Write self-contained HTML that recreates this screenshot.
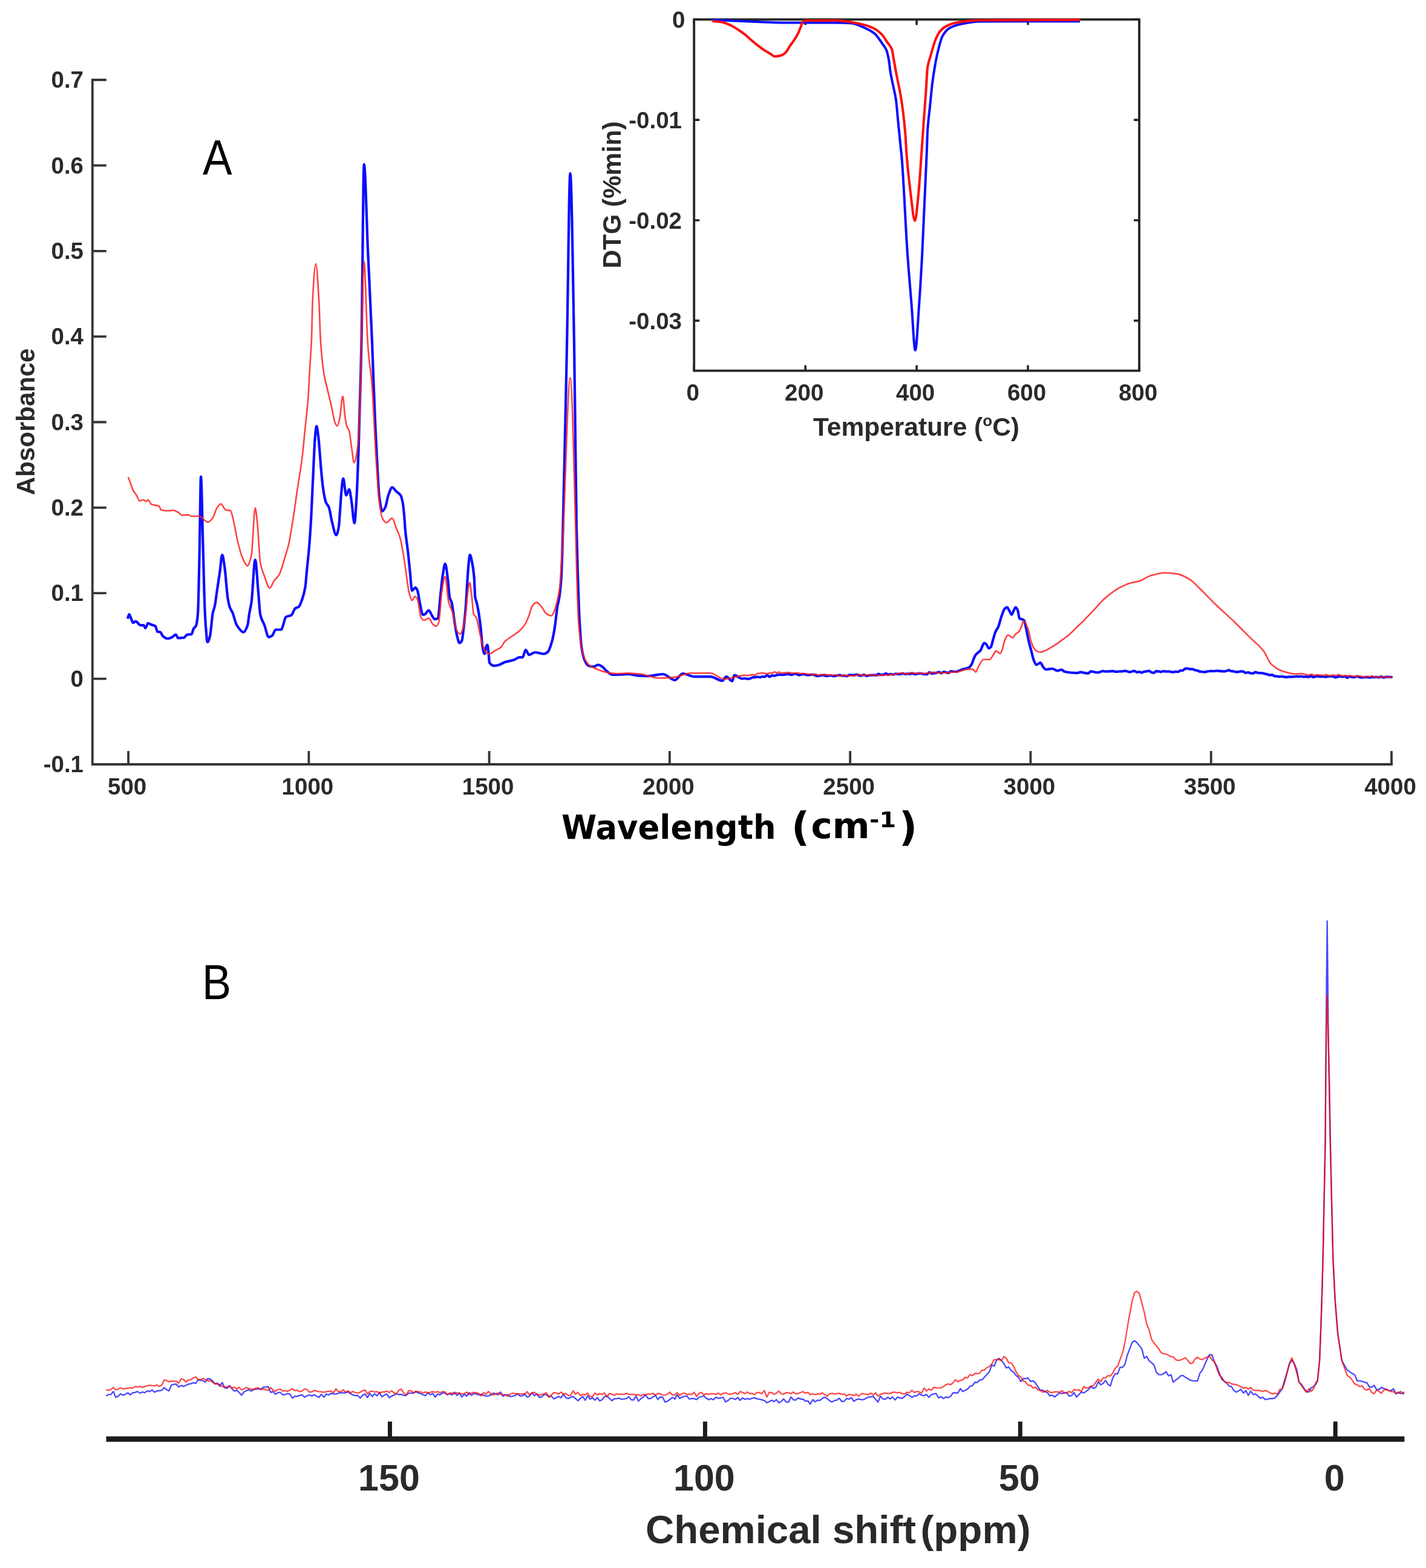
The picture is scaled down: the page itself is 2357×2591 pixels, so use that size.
<!DOCTYPE html>
<html><head><meta charset="utf-8"><title>Figure</title>
<style>html,body{margin:0;padding:0;background:#fff;} svg{display:block;}</style>
</head><body>
<svg width="2357" height="2591" viewBox="0 0 2357 2591">
<rect width="2357" height="2591" fill="#ffffff"/>
<defs><filter id="soft" x="0" y="0" width="100%" height="100%" filterUnits="userSpaceOnUse"><feGaussianBlur stdDeviation="0.6"/></filter></defs>
<g filter="url(#soft)">
<path d="M152.8,132.0 L152.8,1263.0 L2300.1,1263.0" fill="none" stroke="#353535" stroke-width="3.8" stroke-linejoin="miter" stroke-linecap="square"/>
<path d="M152.8,132.0 L175.8,132.0 M152.8,273.4 L175.8,273.4 M152.8,414.8 L175.8,414.8 M152.8,556.1 L175.8,556.1 M152.8,697.5 L175.8,697.5 M152.8,838.9 L175.8,838.9 M152.8,980.2 L175.8,980.2 M152.8,1121.6 L175.8,1121.6" stroke="#353535" stroke-width="3.8" fill="none"/>
<g font-family="Liberation Sans, Arial, sans-serif" font-weight="bold" font-size="38.5" fill="#2b2b2b" text-anchor="end">
<text x="138" y="145.1">0.7</text>
<text x="138" y="286.5">0.6</text>
<text x="138" y="427.9">0.5</text>
<text x="138" y="569.2">0.4</text>
<text x="138" y="710.6">0.3</text>
<text x="138" y="852.0">0.2</text>
<text x="138" y="993.4">0.1</text>
<text x="138" y="1134.7">0</text>
<text x="138" y="1276.1">-0.1</text>
</g>
<path d="M212.1,1263.0 L212.1,1241.0 M510.4,1263.0 L510.4,1241.0 M808.6,1263.0 L808.6,1241.0 M1106.9,1263.0 L1106.9,1241.0 M1405.2,1263.0 L1405.2,1241.0 M1703.4,1263.0 L1703.4,1241.0 M2001.7,1263.0 L2001.7,1241.0 M2300.0,1263.0 L2300.0,1241.0" stroke="#353535" stroke-width="3.8" fill="none"/>
<g font-family="Liberation Sans, Arial, sans-serif" font-weight="bold" font-size="38.5" fill="#2b2b2b" text-anchor="middle">
<text x="210.1" y="1312.5">500</text>
<text x="508.4" y="1312.5">1000</text>
<text x="806.6" y="1312.5">1500</text>
<text x="1104.9" y="1312.5">2000</text>
<text x="1403.2" y="1312.5">2500</text>
<text x="1701.4" y="1312.5">3000</text>
<text x="1999.7" y="1312.5">3500</text>
<text x="2298.0" y="1312.5">4000</text>
</g>
<text transform="translate(57,697) rotate(-90)" font-family="Liberation Sans, Arial, sans-serif" font-weight="bold" font-size="42" fill="#2b2b2b" text-anchor="middle">Absorbance</text>
<g font-family="DejaVu Sans, Verdana, sans-serif" font-weight="bold" font-size="55" fill="#000"><text x="928" y="1385.5" textLength="354.5" lengthAdjust="spacingAndGlyphs">Wavelength</text><text x="1308" y="1388.5" font-size="66">(</text><text x="1340.5" y="1384.8" font-size="58" textLength="97" lengthAdjust="spacingAndGlyphs">cm</text><text x="1437" y="1366.5" font-size="36" textLength="44" lengthAdjust="spacingAndGlyphs">-1</text><text x="1486" y="1388.5" font-size="66">)</text></g>
<text transform="translate(335,287.7) scale(0.89,1)" font-family="Liberation Sans, Arial, sans-serif" font-size="82" fill="#000">A</text>
<path d="M211.1,1022.5C211.9,1018.3 212.7,1015.2 213.5,1015.2C214.6,1015.2 215.7,1020.2 216.8,1022.5C217.9,1024.8 219.0,1029.1 220.1,1029.1C221.5,1029.1 222.8,1026.6 224.2,1026.6C226.9,1026.6 229.6,1033.2 232.3,1033.2C234.0,1033.2 235.6,1033.2 237.3,1033.2C238.4,1033.2 239.4,1038.0 240.5,1038.0C241.9,1038.0 243.2,1029.9 244.6,1029.9C246.5,1029.9 248.4,1031.5 250.3,1032.3C252.5,1033.2 254.7,1033.2 256.9,1034.8C258.0,1035.6 259.1,1043.4 260.2,1043.8C261.8,1044.3 263.5,1044.1 265.1,1044.6C266.5,1045.0 267.8,1050.0 269.2,1051.2C271.6,1053.3 274.1,1055.2 276.5,1055.2C279.2,1055.2 282.0,1054.0 284.7,1052.8C286.6,1052.0 288.5,1048.7 290.4,1048.7C291.8,1048.7 293.1,1054.4 294.5,1054.4C297.8,1054.4 301.0,1054.1 304.3,1053.6C305.9,1053.3 307.6,1049.0 309.2,1048.7C311.7,1048.2 314.1,1048.5 316.6,1047.9C317.7,1047.6 318.8,1040.8 319.9,1038.9C321.3,1036.6 322.6,1036.8 324.0,1034.0C324.8,1032.3 325.6,1027.2 326.4,1020.9C326.7,1018.8 326.9,1016.0 327.2,1011.7C328.0,998.1 328.9,951.1 329.7,913.6C330.5,877.6 331.3,787.6 332.1,787.6C333.2,787.6 334.3,859.9 335.4,897.2C336.5,934.5 337.6,988.7 338.7,1011.7C339.3,1024.2 339.9,1033.0 340.5,1040.0C341.3,1049.0 342.0,1061.0 342.8,1061.0C344.2,1061.0 345.5,1056.6 346.9,1052.0C348.5,1046.5 350.2,1020.5 351.8,1012.7C352.9,1007.6 353.9,1006.3 355.0,1001.3C356.1,996.2 357.2,986.4 358.3,979.0C359.9,968.0 361.6,957.6 363.2,946.3C364.6,936.8 365.9,916.9 367.3,916.9C368.7,916.9 370.0,928.9 371.4,938.1C373.0,949.1 374.7,976.9 376.3,987.2C377.4,994.1 378.5,999.7 379.6,1002.9C381.2,1007.6 382.9,1008.8 384.5,1012.7C386.7,1017.9 388.8,1028.7 391.0,1032.3C394.8,1038.6 398.7,1044.6 402.5,1044.6C404.7,1044.6 406.8,1040.0 409.0,1034.0C410.1,1030.9 411.2,1019.1 412.3,1012.7C413.4,1006.3 414.5,1003.0 415.6,995.4C417.7,981.1 419.7,925.0 421.8,925.0C423.5,925.0 425.3,960.3 427.0,979.0C428.1,990.9 429.2,1011.2 430.3,1016.0C432.5,1025.5 434.6,1026.6 436.8,1032.3C439.3,1038.8 441.7,1052.8 444.2,1052.8C446.1,1052.8 448.0,1051.6 449.9,1050.3C451.8,1049.0 453.7,1040.5 455.6,1040.5C458.6,1040.5 461.6,1040.5 464.6,1040.5C467.3,1040.5 470.1,1020.8 472.8,1019.3C475.7,1017.7 478.6,1018.2 481.5,1016.7C483.7,1015.6 485.8,1006.7 488.0,1005.2C489.9,1003.9 491.8,1004.1 493.7,1002.8C495.6,1001.5 497.5,995.8 499.4,990.5C501.1,985.8 502.7,980.7 504.4,970.9C505.5,964.7 506.5,948.9 507.6,938.2C508.7,927.1 509.8,918.5 510.9,905.4C512.0,892.3 513.1,875.6 514.2,856.4C515.3,837.8 516.3,810.8 517.4,789.0C518.5,766.5 519.6,735.7 520.7,723.6C521.5,714.4 522.4,704.0 523.2,704.0C524.3,704.0 525.3,715.1 526.4,723.6C527.8,734.5 529.1,757.9 530.5,772.7C531.6,784.6 532.7,797.9 533.8,805.4C535.4,816.5 537.1,825.8 538.7,829.9C540.3,834.0 542.0,834.1 543.6,838.1C545.2,842.1 546.9,855.1 548.5,861.3C551.0,870.7 553.4,884.2 555.9,884.2C557.3,884.2 558.6,877.9 560.0,870.0C560.7,866.1 561.3,853.9 562.0,845.0C562.7,835.7 563.4,822.1 564.1,815.0C565.2,804.2 566.2,790.7 567.3,790.7C568.9,790.7 570.6,818.5 572.2,818.5C573.8,818.5 575.5,808.6 577.1,808.6C578.5,808.6 579.8,821.5 581.2,829.9C582.7,839.3 584.3,864.5 585.8,864.5C587.0,864.5 588.2,841.1 589.4,821.7C590.5,803.9 591.6,771.7 592.7,739.9C593.8,708.1 594.9,667.1 596.0,625.4C596.5,605.2 597.1,586.5 597.6,560.0C599.0,492.0 600.3,271.6 601.7,271.6C603.9,271.6 606.0,369.2 608.2,417.0C610.5,467.0 612.7,508.9 615.0,565.0C615.7,583.2 616.5,606.2 617.2,625.4C618.3,654.2 619.4,683.0 620.5,707.2C621.6,731.4 622.7,753.7 623.8,772.7C624.9,791.1 625.9,813.9 627.0,821.7C628.7,833.9 630.3,844.6 632.0,844.6C633.6,844.6 635.3,841.4 636.9,838.1C638.5,834.8 640.2,822.9 641.8,818.5C644.0,812.6 646.1,805.4 648.3,805.4C650.5,805.4 652.7,809.8 654.9,811.9C657.3,814.2 659.8,814.7 662.2,818.5C663.3,820.2 664.4,824.4 665.5,829.9C666.6,835.4 667.7,846.5 668.8,860.0C669.1,863.3 669.3,869.5 669.6,872.7C671.2,892.0 672.9,898.7 674.5,913.6C675.6,923.6 676.7,935.8 677.8,946.3C678.9,956.5 679.9,975.8 681.0,975.8C682.9,975.8 684.8,970.9 686.7,970.9C687.8,970.9 688.9,973.3 690.0,975.8C691.4,978.9 692.7,990.9 694.1,997.0C695.7,1004.2 697.4,1015.9 699.0,1015.9C700.1,1015.9 701.2,1015.4 702.3,1015.0C704.5,1014.1 706.6,1008.5 708.8,1008.5C710.4,1008.5 712.1,1014.3 713.7,1016.7C715.4,1019.1 717.0,1023.2 718.7,1023.2C720.3,1023.2 722.0,1022.6 723.6,1021.6C725.2,1020.6 726.9,993.2 728.5,979.0C729.6,969.7 730.6,957.9 731.7,951.2C733.1,942.7 734.4,931.6 735.8,931.6C737.2,931.6 738.5,944.6 739.9,954.5C741.0,962.4 742.1,982.8 743.2,987.2C744.3,991.6 745.4,991.5 746.5,995.4C748.1,1001.1 749.8,1018.2 751.4,1028.1C752.8,1036.4 754.1,1045.8 755.5,1051.0C756.8,1056.1 758.2,1062.5 759.5,1062.5C760.8,1062.5 762.0,1061.2 763.3,1059.2C764.4,1057.5 765.4,1045.2 766.5,1036.3C767.6,1027.2 768.7,1017.3 769.8,1003.6C770.6,993.2 771.5,975.1 772.3,962.7C773.1,950.8 773.9,936.8 774.7,930.0C775.4,924.1 776.1,916.9 776.8,916.9C778.0,916.9 779.2,924.1 780.4,930.0C781.5,935.4 782.6,942.1 783.7,954.5C784.3,960.9 784.8,983.8 785.4,987.2C786.2,992.0 787.0,992.2 787.8,995.4C788.9,999.8 790.0,1005.3 791.1,1011.8C792.2,1018.3 793.3,1026.8 794.4,1036.3C795.5,1045.5 796.5,1063.4 797.6,1069.0C798.7,1074.7 799.8,1080.5 800.9,1080.5C801.7,1080.5 802.6,1070.9 803.4,1069.0C804.1,1067.4 804.8,1065.7 805.5,1065.7C806.1,1065.7 806.8,1072.3 807.4,1077.2C808.0,1081.6 808.5,1094.4 809.1,1095.2C811.8,1099.0 814.6,1100.1 817.3,1100.1C820.0,1100.1 822.7,1099.3 825.4,1098.5C828.1,1097.7 830.9,1095.3 833.6,1094.4C839.1,1092.5 844.5,1092.2 850.0,1090.3C852.7,1089.4 855.5,1086.2 858.2,1086.2C860.1,1086.2 862.0,1086.2 863.9,1086.2C865.5,1086.2 867.2,1073.9 868.8,1073.9C870.7,1073.9 872.6,1082.1 874.5,1082.1C877.8,1082.1 881.0,1078.0 884.3,1078.0C889.2,1078.0 894.1,1080.5 899.0,1080.5C901.2,1080.5 903.4,1079.0 905.6,1077.2C907.8,1075.4 909.9,1068.2 912.1,1060.8C913.7,1055.2 915.4,1046.4 917.0,1036.3C918.4,1027.8 919.7,1011.9 921.1,1003.6C922.2,996.9 923.3,994.5 924.4,987.2C925.5,979.9 926.6,971.0 927.7,954.5C928.6,941.5 929.4,909.6 930.3,880.0C932.6,802.7 934.8,678.5 937.1,567.6C938.9,479.5 940.7,286.4 942.5,286.4C944.7,286.4 946.8,444.4 949.0,567.6C950.3,641.5 951.6,806.5 952.9,870.0C953.5,899.3 954.1,918.9 954.7,938.2C955.8,973.6 956.9,1009.0 958.0,1028.1C959.1,1046.6 960.1,1061.8 961.2,1069.0C962.8,1080.0 964.5,1086.6 966.1,1090.3C968.3,1095.3 970.5,1099.3 972.7,1100.1C975.4,1101.1 978.1,1101.7 980.8,1101.7C983.5,1101.7 986.3,1098.5 989.0,1098.5C991.2,1098.5 993.4,1100.3 995.6,1101.7C997.8,1103.1 999.9,1106.5 1002.1,1108.3C1005.4,1111.0 1008.6,1114.8 1011.9,1114.8C1015.2,1114.8 1018.4,1114.8 1021.7,1114.8C1027.2,1114.8 1032.6,1114.0 1038.1,1114.0C1043.5,1114.0 1049.0,1116.1 1054.4,1116.5C1059.5,1116.9 1064.5,1117.2 1069.6,1117.2C1078.3,1117.2 1087.1,1114.0 1095.8,1114.0C1102.3,1114.0 1108.9,1123.8 1115.4,1123.8C1119.8,1123.8 1124.1,1113.0 1128.5,1113.0C1135.0,1113.0 1141.6,1118.2 1148.1,1118.2C1156.8,1118.2 1165.6,1118.2 1174.3,1118.2C1180.8,1118.2 1187.4,1124.8 1193.9,1124.8C1196.1,1124.8 1198.3,1118.2 1200.5,1118.2C1203.8,1118.2 1207.0,1125.4 1210.3,1125.4C1211.4,1125.4 1212.5,1115.6 1213.6,1115.6C1217.9,1115.6 1222.3,1121.5 1226.6,1121.5C1228.4,1121.5 1230.2,1121.0 1232.0,1121.0C1233.3,1121.0 1234.7,1121.8 1236.0,1121.8C1237.3,1121.8 1238.7,1121.5 1240.0,1121.3C1241.3,1121.0 1242.7,1119.4 1244.0,1119.3C1245.3,1119.2 1246.7,1119.2 1248.0,1119.1C1249.3,1119.0 1250.7,1118.5 1252.0,1118.5C1253.3,1118.5 1254.7,1119.1 1256.0,1119.1C1257.3,1119.1 1258.7,1118.1 1260.0,1118.1C1261.3,1118.1 1262.7,1118.4 1264.0,1118.4C1265.3,1118.4 1266.7,1115.6 1268.0,1115.6C1269.3,1115.6 1270.7,1118.3 1272.0,1118.3C1273.3,1118.3 1274.7,1116.3 1276.0,1116.3C1277.3,1116.3 1278.7,1116.6 1280.0,1116.6C1281.3,1116.6 1282.7,1115.7 1284.0,1115.4C1285.3,1115.2 1286.7,1114.8 1288.0,1114.8C1289.3,1114.8 1290.7,1115.1 1292.0,1115.1C1293.3,1115.1 1294.7,1115.1 1296.0,1115.0C1297.3,1115.0 1298.7,1113.9 1300.0,1113.9C1301.3,1113.9 1302.7,1114.0 1304.0,1114.1C1305.3,1114.3 1306.7,1115.1 1308.0,1115.1C1309.3,1115.1 1310.7,1114.1 1312.0,1113.9C1313.3,1113.7 1314.7,1113.5 1316.0,1113.5C1317.3,1113.5 1318.7,1115.4 1320.0,1115.4C1321.3,1115.4 1322.7,1115.0 1324.0,1114.7C1325.3,1114.4 1326.7,1113.8 1328.0,1113.8C1329.3,1113.8 1330.7,1114.7 1332.0,1115.0C1333.3,1115.2 1334.7,1115.5 1336.0,1115.5C1337.3,1115.5 1338.7,1115.0 1340.0,1115.0C1341.3,1115.0 1342.7,1114.9 1344.0,1114.9C1345.3,1114.9 1346.7,1116.0 1348.0,1116.3C1349.3,1116.7 1350.7,1117.1 1352.0,1117.1C1353.3,1117.1 1354.7,1116.3 1356.0,1116.1C1357.3,1115.9 1358.7,1115.6 1360.0,1115.6C1361.3,1115.6 1362.7,1116.5 1364.0,1116.6C1365.3,1116.8 1366.7,1116.9 1368.0,1116.9C1369.3,1116.9 1370.7,1116.0 1372.0,1116.0C1373.3,1116.0 1374.7,1116.6 1376.0,1116.8C1377.3,1117.0 1378.7,1117.2 1380.0,1117.2C1381.3,1117.2 1382.7,1116.4 1384.0,1116.1C1385.3,1115.9 1386.7,1115.6 1388.0,1115.6C1389.3,1115.6 1390.7,1116.6 1392.0,1116.6C1393.3,1116.6 1394.7,1116.5 1396.0,1116.5C1397.3,1116.5 1398.7,1117.3 1400.0,1117.3C1401.3,1117.3 1402.7,1115.1 1404.0,1115.1C1405.3,1115.1 1406.7,1115.7 1408.0,1115.7C1409.3,1115.7 1410.7,1115.6 1412.0,1115.5C1413.3,1115.3 1414.7,1114.5 1416.0,1114.5C1417.3,1114.5 1418.7,1115.9 1420.0,1116.1C1421.3,1116.2 1422.7,1116.3 1424.0,1116.3C1425.3,1116.3 1426.7,1115.0 1428.0,1115.0C1429.3,1115.0 1430.7,1116.8 1432.0,1116.8C1433.3,1116.8 1434.7,1116.3 1436.0,1116.1C1437.3,1116.0 1438.7,1115.9 1440.0,1115.8C1441.3,1115.7 1442.7,1115.5 1444.0,1115.5C1445.3,1115.5 1446.7,1115.8 1448.0,1115.8C1449.3,1115.8 1450.7,1113.6 1452.0,1113.6C1453.3,1113.6 1454.7,1115.2 1456.0,1115.2C1457.3,1115.2 1458.7,1115.2 1460.0,1115.1C1461.3,1115.0 1462.7,1112.8 1464.0,1112.8C1465.3,1112.8 1466.7,1114.6 1468.0,1114.6C1469.3,1114.6 1470.7,1113.9 1472.0,1113.9C1473.3,1113.9 1474.7,1114.7 1476.0,1114.7C1477.3,1114.7 1478.7,1113.5 1480.0,1113.5C1481.3,1113.5 1482.7,1113.7 1484.0,1113.8C1485.3,1113.8 1486.7,1114.0 1488.0,1114.0C1489.3,1114.0 1490.7,1112.8 1492.0,1112.8C1493.3,1112.8 1494.7,1114.0 1496.0,1114.0C1497.3,1114.0 1498.7,1113.3 1500.0,1113.3C1501.3,1113.3 1502.7,1113.7 1504.0,1113.7C1505.3,1113.7 1506.7,1112.7 1508.0,1112.7C1509.3,1112.7 1510.7,1114.0 1512.0,1114.0C1513.3,1114.0 1514.7,1113.7 1516.0,1113.5C1517.3,1113.3 1518.7,1112.7 1520.0,1112.7C1521.3,1112.7 1522.7,1113.1 1524.0,1113.3C1525.3,1113.5 1526.7,1113.6 1528.0,1113.8C1529.3,1113.9 1530.7,1114.1 1532.0,1114.1C1533.3,1114.1 1534.7,1111.0 1536.0,1111.0C1537.3,1111.0 1538.7,1113.1 1540.0,1113.1C1541.3,1113.1 1542.7,1112.7 1544.0,1112.5C1545.3,1112.3 1546.7,1112.1 1548.0,1111.8C1549.3,1111.5 1550.7,1110.7 1552.0,1110.7C1553.3,1110.7 1554.7,1112.5 1556.0,1112.5C1557.3,1112.5 1558.7,1110.0 1560.0,1110.0C1561.3,1110.0 1562.7,1111.2 1564.0,1111.4C1565.3,1111.7 1566.7,1111.9 1568.0,1111.9C1569.3,1111.9 1570.7,1109.0 1572.0,1109.0C1573.3,1109.0 1574.7,1109.9 1576.0,1110.0C1577.3,1110.0 1578.7,1110.0 1580.0,1110.0C1583.6,1110.0 1587.3,1107.3 1590.9,1106.1C1594.5,1104.9 1598.2,1104.8 1601.8,1102.9C1603.3,1102.1 1604.7,1100.0 1606.2,1097.4C1607.3,1095.5 1608.3,1091.2 1609.4,1088.7C1610.5,1086.2 1611.6,1083.6 1612.7,1082.1C1614.2,1080.1 1615.6,1079.1 1617.1,1077.8C1618.4,1076.6 1619.6,1076.2 1620.9,1074.5C1621.8,1073.3 1622.7,1069.8 1623.6,1068.0C1624.7,1065.8 1625.8,1062.5 1626.9,1062.5C1628.0,1062.5 1629.1,1063.7 1630.2,1064.7C1631.6,1066.0 1633.1,1071.2 1634.5,1071.2C1635.6,1071.2 1636.7,1070.3 1637.8,1069.1C1638.9,1067.9 1640.0,1061.7 1641.1,1058.1C1642.5,1053.4 1644.0,1047.3 1645.4,1044.0C1646.9,1040.6 1648.3,1039.6 1649.8,1036.3C1651.6,1032.3 1653.4,1023.8 1655.2,1018.9C1657.0,1013.9 1658.9,1007.4 1660.7,1005.8C1662.0,1004.7 1663.2,1003.6 1664.5,1003.6C1665.8,1003.6 1667.0,1007.1 1668.3,1009.1C1669.6,1011.1 1670.8,1015.6 1672.1,1015.6C1673.2,1015.6 1674.3,1011.1 1675.4,1009.1C1676.5,1007.1 1677.6,1003.6 1678.7,1003.6C1679.8,1003.6 1680.9,1005.7 1682.0,1008.0C1683.1,1010.2 1684.1,1021.7 1685.2,1022.2C1686.5,1022.8 1687.8,1022.7 1689.1,1023.2C1690.4,1023.7 1691.6,1024.1 1692.9,1025.4C1693.8,1026.4 1694.7,1032.3 1695.6,1036.3C1697.1,1042.8 1698.5,1051.8 1700.0,1058.1C1701.4,1064.3 1702.9,1069.1 1704.3,1074.5C1705.8,1080.0 1707.2,1087.4 1708.7,1090.9C1710.1,1094.3 1711.6,1098.5 1713.0,1098.5C1715.2,1098.5 1717.4,1095.2 1719.6,1095.2C1721.1,1095.2 1722.5,1100.0 1724.0,1101.8C1725.4,1103.5 1726.9,1106.1 1728.3,1106.1C1731.9,1106.1 1735.6,1105.0 1739.2,1105.0C1742.1,1105.0 1745.0,1108.3 1747.9,1108.3C1750.1,1108.3 1752.3,1106.7 1754.5,1106.7C1756.3,1106.7 1758.1,1109.6 1759.9,1110.0C1766.6,1111.4 1773.3,1112.1 1780.0,1112.1C1782.3,1112.1 1784.7,1110.6 1787.0,1110.6C1788.3,1110.6 1789.7,1111.3 1791.0,1111.6C1792.3,1111.9 1793.7,1112.3 1795.0,1112.4C1796.3,1112.5 1797.7,1112.6 1799.0,1112.6C1800.3,1112.6 1801.7,1109.3 1803.0,1109.3C1804.3,1109.3 1805.7,1109.8 1807.0,1110.0C1808.3,1110.3 1809.7,1110.6 1811.0,1110.8C1812.3,1111.0 1813.7,1111.3 1815.0,1111.3C1816.3,1111.3 1817.7,1110.5 1819.0,1110.1C1820.3,1109.7 1821.7,1108.9 1823.0,1108.9C1824.3,1108.9 1825.7,1109.6 1827.0,1109.6C1828.3,1109.6 1829.7,1109.5 1831.0,1109.4C1832.3,1109.4 1833.7,1109.4 1835.0,1109.3C1836.3,1109.2 1837.7,1108.9 1839.0,1108.9C1840.3,1108.9 1841.7,1109.8 1843.0,1109.8C1844.3,1109.8 1845.7,1109.8 1847.0,1109.8C1848.3,1109.8 1849.7,1109.5 1851.0,1109.5C1852.3,1109.4 1853.7,1109.5 1855.0,1109.4C1856.3,1109.4 1857.7,1108.6 1859.0,1108.6C1860.3,1108.6 1861.7,1108.9 1863.0,1109.2C1864.3,1109.5 1865.7,1110.6 1867.0,1110.6C1868.3,1110.6 1869.7,1109.9 1871.0,1109.5C1872.3,1109.2 1873.7,1108.6 1875.0,1108.6C1876.3,1108.6 1877.7,1110.8 1879.0,1110.8C1880.3,1110.8 1881.7,1110.2 1883.0,1110.2C1884.3,1110.2 1885.7,1111.5 1887.0,1111.5C1888.3,1111.5 1889.7,1110.1 1891.0,1109.9C1892.3,1109.6 1893.7,1109.6 1895.0,1109.4C1896.3,1109.2 1897.7,1108.6 1899.0,1108.6C1900.3,1108.6 1901.7,1110.4 1903.0,1110.9C1904.3,1111.3 1905.7,1111.9 1907.0,1111.9C1908.3,1111.9 1909.7,1109.1 1911.0,1109.1C1912.3,1109.1 1913.7,1109.2 1915.0,1109.3C1916.3,1109.4 1917.7,1110.3 1919.0,1110.3C1920.3,1110.3 1921.7,1109.1 1923.0,1109.1C1924.3,1109.1 1925.7,1109.6 1927.0,1109.6C1928.3,1109.6 1929.7,1109.5 1931.0,1109.5C1932.3,1109.5 1933.7,1109.8 1935.0,1110.0C1936.3,1110.1 1937.7,1110.7 1939.0,1110.7C1940.3,1110.7 1941.7,1109.8 1943.0,1109.8C1944.3,1109.8 1945.7,1110.2 1947.0,1110.2C1948.3,1110.2 1949.7,1108.4 1951.0,1108.2C1952.3,1108.0 1953.7,1108.0 1955.0,1107.8C1956.3,1107.6 1957.7,1105.2 1959.0,1104.9C1960.3,1104.7 1961.7,1104.6 1963.0,1104.6C1964.3,1104.6 1965.7,1105.8 1967.0,1105.8C1968.3,1105.8 1969.7,1105.6 1971.0,1105.6C1972.3,1105.6 1973.7,1107.0 1975.0,1107.3C1976.3,1107.7 1977.7,1107.8 1979.0,1108.1C1980.3,1108.5 1981.7,1109.4 1983.0,1109.6C1984.3,1109.8 1985.7,1109.9 1987.0,1110.0C1988.3,1110.2 1989.7,1110.6 1991.0,1110.6C1992.3,1110.6 1993.7,1109.8 1995.0,1109.6C1996.3,1109.4 1997.7,1109.1 1999.0,1109.0C2000.3,1109.0 2001.7,1108.9 2003.0,1108.9C2004.3,1108.9 2005.7,1109.0 2007.0,1109.0C2008.3,1109.0 2009.7,1108.4 2011.0,1108.4C2012.3,1108.4 2013.7,1108.7 2015.0,1108.8C2016.3,1108.9 2017.7,1109.0 2019.0,1109.1C2020.3,1109.2 2021.7,1109.3 2023.0,1109.3C2024.3,1109.3 2025.7,1109.0 2027.0,1108.7C2028.3,1108.5 2029.7,1107.4 2031.0,1107.4C2032.3,1107.4 2033.7,1108.7 2035.0,1109.0C2036.3,1109.2 2037.7,1109.2 2039.0,1109.4C2040.3,1109.6 2041.7,1110.4 2043.0,1110.4C2044.3,1110.4 2045.7,1110.3 2047.0,1110.2C2048.3,1110.1 2049.7,1109.4 2051.0,1109.4C2052.3,1109.4 2053.7,1109.5 2055.0,1109.6C2056.3,1109.7 2057.7,1112.0 2059.0,1112.0C2060.3,1112.0 2061.7,1111.2 2063.0,1111.2C2064.3,1111.2 2065.7,1112.1 2067.0,1112.3C2068.3,1112.5 2069.7,1112.8 2071.0,1112.8C2072.3,1112.8 2073.7,1110.7 2075.0,1110.7C2076.3,1110.7 2077.7,1111.7 2079.0,1111.8C2080.3,1112.0 2081.7,1112.0 2083.0,1112.1C2084.3,1112.2 2085.7,1112.3 2087.0,1112.4C2088.3,1112.6 2089.7,1113.2 2091.0,1113.5C2092.3,1113.8 2093.7,1114.0 2095.0,1114.3C2096.3,1114.7 2097.7,1115.4 2099.0,1115.4C2100.3,1115.4 2101.7,1115.2 2103.0,1115.2C2104.3,1115.2 2105.7,1117.3 2107.0,1117.4C2108.3,1117.5 2109.7,1117.4 2111.0,1117.5C2112.3,1117.6 2113.7,1118.2 2115.0,1118.2C2116.3,1118.2 2117.7,1117.7 2119.0,1117.7C2120.3,1117.7 2121.7,1118.5 2123.0,1118.6C2124.3,1118.7 2125.7,1118.8 2127.0,1118.8C2128.3,1118.8 2129.7,1118.3 2131.0,1118.3C2132.3,1118.3 2133.7,1118.4 2135.0,1118.4C2136.3,1118.4 2137.7,1118.3 2139.0,1118.2C2140.3,1118.1 2141.7,1117.7 2143.0,1117.7C2144.3,1117.7 2145.7,1118.0 2147.0,1118.0C2148.3,1118.0 2149.7,1117.7 2151.0,1117.7C2152.3,1117.7 2153.7,1118.4 2155.0,1118.4C2156.3,1118.4 2157.7,1118.1 2159.0,1118.1C2160.3,1118.1 2161.7,1118.6 2163.0,1118.6C2164.3,1118.6 2165.7,1117.1 2167.0,1117.1C2168.3,1117.1 2169.7,1118.9 2171.0,1118.9C2172.3,1118.9 2173.7,1117.6 2175.0,1117.6C2176.3,1117.6 2177.7,1117.6 2179.0,1117.6C2180.3,1117.7 2181.7,1118.1 2183.0,1118.1C2184.3,1118.1 2185.7,1117.8 2187.0,1117.8C2188.3,1117.8 2189.7,1118.5 2191.0,1118.5C2192.3,1118.5 2193.7,1118.0 2195.0,1117.9C2196.3,1117.7 2197.7,1117.5 2199.0,1117.5C2200.3,1117.5 2201.7,1117.6 2203.0,1117.7C2204.3,1117.8 2205.7,1119.4 2207.0,1119.4C2208.3,1119.4 2209.7,1118.8 2211.0,1118.5C2212.3,1118.1 2213.7,1117.5 2215.0,1117.5C2216.3,1117.5 2217.7,1118.5 2219.0,1118.5C2220.3,1118.5 2221.7,1117.3 2223.0,1117.3C2224.3,1117.3 2225.7,1120.0 2227.0,1120.0C2228.3,1120.0 2229.7,1117.3 2231.0,1117.3C2232.3,1117.3 2233.7,1118.9 2235.0,1119.0C2236.3,1119.0 2237.7,1119.0 2239.0,1119.0C2240.3,1119.0 2241.7,1117.5 2243.0,1117.5C2244.3,1117.5 2245.7,1118.6 2247.0,1118.9C2248.3,1119.2 2249.7,1119.5 2251.0,1119.5C2252.3,1119.5 2253.7,1119.1 2255.0,1119.1C2256.3,1119.0 2257.7,1118.9 2259.0,1118.9C2260.3,1118.9 2261.7,1119.5 2263.0,1119.5C2264.3,1119.5 2265.7,1118.9 2267.0,1118.9C2268.3,1118.9 2269.7,1119.1 2271.0,1119.1C2272.3,1119.1 2273.7,1118.7 2275.0,1118.7C2276.3,1118.7 2277.7,1119.4 2279.0,1119.4C2280.3,1119.4 2281.7,1118.1 2283.0,1118.1C2284.3,1118.1 2285.7,1119.5 2287.0,1119.5C2288.3,1119.5 2289.7,1118.5 2291.0,1118.5C2294.6,1118.5 2298.1,1118.5 2301.7,1119.0" fill="none" stroke="#0a0aff" stroke-width="4.2" stroke-linejoin="round"/>
<path d="M211.9,788.4C213.8,793.4 215.7,798.6 217.6,804.0C218.2,805.6 218.7,807.7 219.3,808.9C221.5,813.5 223.6,815.1 225.8,818.7C227.4,821.4 229.1,827.7 230.7,827.7C232.9,827.7 235.1,826.0 237.3,826.0C238.6,826.0 240.0,828.5 241.3,828.5C242.4,828.5 243.5,826.0 244.6,826.0C246.5,826.0 248.4,832.5 250.3,833.4C254.7,835.4 259.0,834.3 263.4,836.7C264.2,837.2 265.1,842.1 265.9,842.4C270.0,843.7 274.1,844.0 278.2,844.0C280.9,844.0 283.6,843.2 286.3,843.2C289.0,843.2 291.8,845.0 294.5,846.5C296.7,847.7 298.8,851.4 301.0,851.4C304.3,851.4 307.6,850.6 310.9,850.6C312.5,850.6 314.2,853.0 315.8,853.0C320.2,853.0 324.5,853.0 328.9,853.0C333.8,853.0 338.7,862.9 343.6,862.9C346.3,862.9 349.1,859.1 351.8,855.5C354.0,852.6 356.1,843.3 358.3,840.0C360.5,836.6 362.7,832.6 364.9,832.6C367.6,832.6 370.3,841.5 373.0,842.4C375.7,843.3 378.5,842.9 381.2,844.0C382.8,844.7 384.5,854.5 386.1,861.2C388.3,870.2 390.5,885.0 392.7,894.0C395.4,905.0 398.1,915.9 400.8,921.8C403.5,927.8 406.3,934.9 409.0,934.9C411.2,934.9 413.4,926.8 415.6,916.9C417.7,907.6 419.7,839.2 421.8,839.2C423.0,839.2 424.2,853.6 425.4,864.5C427.0,879.3 428.7,921.2 430.3,930.0C432.5,941.7 434.6,945.3 436.8,951.2C439.8,959.3 442.8,971.7 445.8,971.7C448.3,971.7 450.7,962.8 453.2,959.4C455.9,955.6 458.7,954.2 461.4,949.6C464.7,944.1 467.9,930.6 471.2,920.1C473.0,914.4 474.7,909.5 476.5,902.2C478.7,893.1 480.9,879.3 483.1,866.0C485.8,849.4 488.6,828.4 491.3,810.0C494.0,791.8 496.7,778.0 499.4,756.3C501.1,742.9 502.7,723.7 504.4,707.2C506.0,691.0 507.7,679.6 509.3,658.2C510.4,644.2 511.4,619.1 512.5,600.9C513.3,586.7 514.2,579.7 515.0,560.0C515.5,547.4 516.1,509.5 516.6,499.0C518.4,463.4 520.2,436.0 522.0,436.0C523.8,436.0 525.5,469.0 527.3,499.0C528.1,512.6 528.9,547.8 529.7,560.0C531.6,589.1 533.5,605.5 535.4,617.3C537.6,631.0 539.8,637.1 542.0,646.7C544.2,656.2 546.3,664.8 548.5,674.5C550.1,681.8 551.8,693.5 553.4,697.4C554.8,700.6 556.1,704.0 557.5,704.0C558.9,704.0 560.2,696.9 561.6,690.9C563.2,683.7 564.9,654.9 566.5,654.9C567.9,654.9 569.2,682.1 570.6,690.9C571.4,696.3 572.3,701.5 573.1,704.0C574.4,708.0 575.8,708.0 577.1,712.1C578.5,716.4 579.8,731.2 581.2,739.9C582.6,748.6 583.9,764.5 585.3,764.5C587.2,764.5 589.1,753.3 591.0,739.9C592.1,732.2 593.2,715.1 594.3,690.9C595.1,672.6 596.0,622.8 596.8,592.7C598.4,533.7 600.1,432.0 601.7,432.0C603.6,432.0 605.5,529.6 607.4,560.0C608.2,573.3 609.1,584.3 609.9,592.7C611.3,606.5 612.6,610.9 614.0,625.4C615.1,636.7 616.1,656.1 617.2,674.5C618.3,693.5 619.4,721.2 620.5,739.9C621.6,758.6 622.7,773.9 623.8,789.0C624.9,803.7 625.9,821.7 627.0,829.9C628.7,842.8 630.3,853.2 632.0,856.4C634.2,860.5 636.3,863.7 638.5,863.7C641.8,863.7 645.0,856.4 648.3,856.4C650.5,856.4 652.7,867.2 654.9,872.7C657.1,878.1 659.2,881.7 661.4,889.1C663.0,894.7 664.7,904.3 666.3,913.6C667.9,922.9 669.6,935.4 671.2,946.3C672.8,957.2 674.5,972.8 676.1,979.0C677.7,985.2 679.4,992.1 681.0,992.1C682.6,992.1 684.3,985.6 685.9,985.6C687.3,985.6 688.6,987.9 690.0,990.5C691.9,994.1 693.8,1016.8 695.7,1019.9C697.4,1022.7 699.0,1024.9 700.7,1024.9C703.4,1024.9 706.1,1021.6 708.8,1021.6C711.0,1021.6 713.2,1029.6 715.4,1031.4C717.3,1033.0 719.2,1034.7 721.1,1034.7C722.5,1034.7 723.8,1031.8 725.2,1028.1C726.8,1023.7 728.5,989.4 730.1,979.0C732.0,966.9 733.9,952.9 735.8,952.9C737.7,952.9 739.7,988.1 741.6,995.4C743.8,1003.6 745.9,1004.8 748.1,1011.8C750.3,1018.8 752.4,1037.4 754.6,1041.2C756.5,1044.6 758.5,1047.7 760.4,1047.7C761.9,1047.7 763.4,1043.7 764.9,1039.6C766.5,1035.2 768.2,1023.8 769.8,1011.8C770.9,1003.7 772.0,986.3 773.1,979.0C774.2,971.7 775.3,962.7 776.4,962.7C777.5,962.7 778.5,975.7 779.6,984.0C780.7,992.6 781.8,1012.6 782.9,1015.0C784.3,1018.0 785.6,1017.5 787.0,1020.0C788.9,1023.5 790.8,1036.3 792.7,1044.5C794.3,1051.5 796.0,1061.2 797.6,1065.7C799.8,1071.8 802.0,1077.5 804.2,1078.8C805.8,1079.7 807.5,1080.5 809.1,1080.5C811.8,1080.5 814.6,1077.2 817.3,1075.6C821.1,1073.4 824.9,1072.5 828.7,1069.0C830.3,1067.5 832.0,1062.6 833.6,1060.8C838.0,1056.0 842.3,1054.2 846.7,1051.0C850.5,1048.2 854.4,1046.2 858.2,1042.8C861.5,1039.9 864.7,1036.5 868.0,1031.4C870.2,1028.0 872.3,1022.3 874.5,1016.7C876.1,1012.5 877.8,1004.3 879.4,1002.0C881.9,998.5 884.3,995.4 886.8,995.4C889.8,995.4 892.8,1000.1 895.8,1003.6C898.0,1006.1 900.1,1011.8 902.3,1013.4C905.3,1015.6 908.3,1017.5 911.3,1017.5C912.7,1017.5 914.0,1014.5 915.4,1011.8C917.0,1008.6 918.7,1001.9 920.3,995.4C921.9,988.9 923.6,983.5 925.2,970.9C926.3,962.4 927.4,940.3 928.5,921.8C929.4,906.7 930.3,888.1 931.2,870.0C935.0,794.2 938.7,624.2 942.5,624.2C945.5,624.2 948.4,765.4 951.4,870.0C951.9,888.8 952.5,920.0 953.0,938.2C954.1,975.7 955.2,1013.5 956.3,1028.1C957.9,1049.7 959.6,1060.8 961.2,1069.0C963.4,1080.0 965.6,1088.4 967.8,1091.9C971.1,1097.2 974.3,1099.7 977.6,1101.7C981.4,1104.0 985.2,1105.3 989.0,1106.7C994.5,1108.7 999.9,1110.8 1005.4,1111.6C1010.8,1112.4 1016.3,1113.2 1021.7,1113.2C1027.2,1113.2 1032.6,1112.4 1038.1,1112.4C1045.4,1112.4 1052.7,1113.2 1060.0,1114.0C1069.8,1115.0 1079.5,1120.5 1089.3,1120.5C1098.0,1120.5 1106.7,1119.8 1115.4,1118.9C1124.1,1118.0 1132.9,1112.3 1141.6,1112.3C1152.5,1112.3 1163.4,1112.3 1174.3,1112.3C1181.9,1112.3 1189.6,1122.2 1197.2,1122.2C1207.0,1122.2 1216.8,1117.5 1226.6,1116.3C1228.4,1116.1 1230.2,1115.8 1232.0,1115.8C1233.3,1115.8 1234.7,1116.2 1236.0,1116.2C1237.3,1116.2 1238.7,1115.7 1240.0,1115.5C1241.3,1115.4 1242.7,1115.1 1244.0,1115.1C1245.3,1115.1 1246.7,1115.4 1248.0,1115.4C1249.3,1115.4 1250.7,1112.8 1252.0,1112.8C1253.3,1112.8 1254.7,1112.8 1256.0,1112.8C1257.3,1112.8 1258.7,1111.9 1260.0,1111.9C1261.3,1111.9 1262.7,1112.4 1264.0,1112.6C1265.3,1112.9 1266.7,1113.3 1268.0,1113.3C1269.3,1113.3 1270.7,1112.2 1272.0,1112.2C1273.3,1112.2 1274.7,1112.4 1276.0,1112.4C1277.3,1112.4 1278.7,1110.3 1280.0,1110.3C1281.3,1110.3 1282.7,1111.7 1284.0,1111.7C1285.3,1111.7 1286.7,1110.6 1288.0,1110.6C1289.3,1110.6 1290.7,1112.5 1292.0,1112.5C1293.3,1112.5 1294.7,1111.6 1296.0,1111.6C1297.3,1111.6 1298.7,1111.6 1300.0,1111.6C1301.3,1111.6 1302.7,1111.2 1304.0,1111.2C1305.3,1111.2 1306.7,1111.9 1308.0,1112.1C1309.3,1112.3 1310.7,1112.5 1312.0,1112.5C1313.3,1112.5 1314.7,1112.1 1316.0,1112.1C1317.3,1112.1 1318.7,1112.2 1320.0,1112.3C1321.3,1112.4 1322.7,1113.0 1324.0,1113.0C1325.3,1113.0 1326.7,1113.0 1328.0,1113.0C1329.3,1113.0 1330.7,1113.2 1332.0,1113.4C1333.3,1113.5 1334.7,1114.0 1336.0,1114.0C1337.3,1114.0 1338.7,1114.0 1340.0,1114.0C1341.3,1114.0 1342.7,1115.6 1344.0,1115.6C1345.3,1115.6 1346.7,1113.8 1348.0,1113.8C1349.3,1113.8 1350.7,1115.8 1352.0,1115.8C1353.3,1115.8 1354.7,1114.7 1356.0,1114.7C1357.3,1114.7 1358.7,1114.9 1360.0,1114.9C1361.3,1114.9 1362.7,1114.3 1364.0,1114.3C1365.3,1114.3 1366.7,1115.4 1368.0,1115.4C1369.3,1115.4 1370.7,1115.4 1372.0,1115.4C1373.3,1115.4 1374.7,1115.8 1376.0,1115.8C1377.3,1115.8 1378.7,1115.3 1380.0,1115.3C1381.3,1115.3 1382.7,1115.6 1384.0,1115.9C1385.3,1116.1 1386.7,1117.3 1388.0,1117.3C1389.3,1117.3 1390.7,1116.6 1392.0,1116.3C1393.3,1116.0 1394.7,1115.6 1396.0,1115.6C1397.3,1115.6 1398.7,1116.9 1400.0,1116.9C1401.3,1116.9 1402.7,1116.1 1404.0,1116.1C1405.3,1116.1 1406.7,1116.7 1408.0,1116.7C1409.3,1116.7 1410.7,1116.7 1412.0,1116.7C1413.3,1116.7 1414.7,1116.1 1416.0,1115.8C1417.3,1115.4 1418.7,1114.4 1420.0,1114.4C1421.3,1114.4 1422.7,1115.3 1424.0,1115.5C1425.3,1115.8 1426.7,1116.1 1428.0,1116.1C1429.3,1116.1 1430.7,1115.2 1432.0,1115.2C1433.3,1115.2 1434.7,1115.6 1436.0,1115.8C1437.3,1115.9 1438.7,1116.1 1440.0,1116.1C1441.3,1116.1 1442.7,1114.7 1444.0,1114.7C1445.3,1114.7 1446.7,1115.9 1448.0,1116.0C1449.3,1116.1 1450.7,1116.2 1452.0,1116.2C1453.3,1116.2 1454.7,1115.6 1456.0,1115.6C1457.3,1115.6 1458.7,1115.6 1460.0,1115.5C1461.3,1115.5 1462.7,1115.4 1464.0,1115.4C1465.3,1115.4 1466.7,1116.1 1468.0,1116.1C1469.3,1116.1 1470.7,1114.5 1472.0,1114.4C1473.3,1114.2 1474.7,1114.1 1476.0,1114.1C1477.3,1114.1 1478.7,1114.4 1480.0,1114.4C1481.3,1114.4 1482.7,1113.4 1484.0,1113.1C1485.3,1112.8 1486.7,1112.4 1488.0,1112.4C1489.3,1112.4 1490.7,1112.6 1492.0,1112.8C1493.3,1113.0 1494.7,1113.7 1496.0,1113.7C1497.3,1113.7 1498.7,1113.7 1500.0,1113.6C1501.3,1113.6 1502.7,1112.1 1504.0,1111.9C1505.3,1111.7 1506.7,1111.5 1508.0,1111.5C1509.3,1111.5 1510.7,1112.6 1512.0,1112.6C1513.3,1112.6 1514.7,1112.6 1516.0,1112.6C1517.3,1112.6 1518.7,1112.5 1520.0,1112.5C1521.3,1112.5 1522.7,1112.9 1524.0,1113.0C1525.3,1113.1 1526.7,1113.3 1528.0,1113.3C1529.3,1113.3 1530.7,1112.3 1532.0,1112.3C1533.3,1112.3 1534.7,1112.5 1536.0,1112.5C1537.3,1112.5 1538.7,1111.1 1540.0,1111.0C1541.3,1110.9 1542.7,1110.8 1544.0,1110.8C1545.3,1110.8 1546.7,1111.7 1548.0,1111.8C1549.3,1111.9 1550.7,1112.0 1552.0,1112.0C1553.3,1112.0 1554.7,1111.9 1556.0,1111.9C1557.3,1111.8 1558.7,1111.6 1560.0,1111.6C1561.3,1111.6 1562.7,1111.7 1564.0,1111.7C1565.3,1111.7 1566.7,1111.6 1568.0,1111.5C1569.8,1111.5 1571.6,1110.8 1573.4,1110.7C1575.6,1110.6 1577.8,1110.6 1580.0,1110.5C1587.3,1110.2 1594.5,1105.6 1601.8,1105.6C1604.0,1105.6 1606.2,1105.8 1608.4,1106.1C1609.8,1106.3 1611.3,1110.5 1612.7,1110.5C1614.2,1110.5 1615.6,1104.2 1617.1,1101.8C1620.0,1097.0 1622.9,1089.8 1625.8,1089.8C1629.1,1089.8 1632.3,1089.8 1635.6,1089.8C1637.4,1089.8 1639.3,1085.6 1641.1,1083.2C1642.9,1080.9 1644.7,1075.6 1646.5,1075.6C1648.7,1075.6 1650.9,1080.0 1653.1,1080.0C1654.2,1080.0 1655.2,1077.0 1656.3,1074.5C1657.8,1071.1 1659.2,1061.4 1660.7,1058.1C1662.5,1054.0 1664.3,1049.4 1666.1,1049.4C1668.7,1049.4 1671.2,1053.8 1673.8,1053.8C1675.2,1053.8 1676.7,1049.8 1678.1,1048.3C1680.3,1046.1 1682.5,1045.6 1684.7,1042.9C1685.8,1041.6 1686.9,1038.8 1688.0,1036.3C1689.3,1033.4 1690.5,1026.0 1691.8,1026.0C1693.1,1026.0 1694.3,1028.8 1695.6,1030.9C1697.1,1033.4 1698.5,1037.3 1700.0,1042.0C1701.3,1046.1 1702.6,1054.5 1703.9,1058.7C1705.4,1063.7 1707.0,1068.1 1708.5,1070.5C1710.0,1072.9 1711.6,1074.9 1713.1,1075.7C1715.3,1076.8 1717.4,1077.7 1719.6,1077.7C1722.2,1077.7 1724.9,1076.2 1727.5,1075.1C1730.3,1073.9 1733.2,1072.1 1736.0,1070.5C1739.3,1068.6 1742.5,1066.8 1745.8,1064.6C1749.1,1062.4 1752.3,1059.8 1755.6,1057.4C1758.9,1055.0 1762.1,1052.9 1765.4,1050.2C1767.6,1048.4 1769.8,1046.4 1772.0,1044.3C1775.3,1041.2 1778.5,1037.7 1781.8,1034.5C1785.1,1031.3 1788.3,1028.6 1791.6,1025.3C1794.9,1022.0 1798.1,1018.4 1801.4,1014.9C1804.7,1011.4 1808.0,1008.0 1811.3,1004.4C1814.2,1001.2 1817.1,997.5 1820.0,994.6C1823.3,991.3 1826.7,988.3 1830.0,985.6C1835.7,980.9 1841.5,976.3 1847.2,973.1C1854.5,969.0 1861.8,965.2 1869.1,963.2C1873.4,962.0 1877.8,961.8 1882.1,960.6C1888.7,958.8 1895.2,953.2 1901.8,951.3C1909.8,949.0 1917.8,946.5 1925.8,946.5C1932.3,946.5 1938.9,947.4 1945.4,948.4C1952.7,949.5 1959.9,953.4 1967.2,957.8C1972.3,960.9 1977.4,967.1 1982.5,972.0C1991.9,981.0 2001.4,991.2 2010.8,1000.3C2021.0,1010.1 2031.2,1018.8 2041.4,1028.7C2049.4,1036.4 2057.3,1044.7 2065.3,1052.7C2073.3,1060.7 2081.3,1066.0 2089.3,1076.7C2092.9,1081.5 2096.6,1092.6 2100.2,1096.3C2106.0,1102.3 2111.9,1106.3 2117.7,1108.3C2125.7,1111.1 2133.7,1113.7 2141.7,1113.7C2145.1,1113.7 2148.6,1113.1 2152.0,1113.1C2153.3,1113.1 2154.7,1113.7 2156.0,1114.0C2157.3,1114.4 2158.7,1115.0 2160.0,1115.1C2161.3,1115.2 2162.7,1115.3 2164.0,1115.3C2165.3,1115.3 2166.7,1114.0 2168.0,1114.0C2169.3,1114.0 2170.7,1116.0 2172.0,1116.0C2173.3,1116.0 2174.7,1115.0 2176.0,1115.0C2177.3,1115.0 2178.7,1115.1 2180.0,1115.2C2181.3,1115.3 2182.7,1115.5 2184.0,1115.7C2185.3,1115.9 2186.7,1116.2 2188.0,1116.2C2189.3,1116.2 2190.7,1114.7 2192.0,1114.7C2193.3,1114.7 2194.7,1116.6 2196.0,1116.6C2197.3,1116.6 2198.7,1116.2 2200.0,1116.0C2201.3,1115.9 2202.7,1115.6 2204.0,1115.6C2205.3,1115.6 2206.7,1116.0 2208.0,1116.0C2209.3,1116.0 2210.7,1114.8 2212.0,1114.8C2213.3,1114.8 2214.7,1115.7 2216.0,1116.0C2217.3,1116.3 2218.7,1116.7 2220.0,1116.7C2221.3,1116.7 2222.7,1116.2 2224.0,1116.2C2225.3,1116.2 2226.7,1116.5 2228.0,1116.6C2229.3,1116.7 2230.7,1116.7 2232.0,1116.8C2233.3,1116.9 2234.7,1117.0 2236.0,1117.1C2237.3,1117.2 2238.7,1117.9 2240.0,1117.9C2241.3,1117.9 2242.7,1117.3 2244.0,1117.3C2245.3,1117.2 2246.7,1117.2 2248.0,1117.2C2249.3,1117.2 2250.7,1117.6 2252.0,1117.9C2253.3,1118.2 2254.7,1119.1 2256.0,1119.1C2257.3,1119.1 2258.7,1117.5 2260.0,1117.5C2261.3,1117.5 2262.7,1118.2 2264.0,1118.2C2265.3,1118.2 2266.7,1116.9 2268.0,1116.9C2269.3,1116.9 2270.7,1119.1 2272.0,1119.1C2273.3,1119.1 2274.7,1118.7 2276.0,1118.7C2277.3,1118.7 2278.7,1119.3 2280.0,1119.3C2281.3,1119.3 2282.7,1118.7 2284.0,1118.4C2285.3,1118.2 2286.7,1117.9 2288.0,1117.9C2289.3,1117.9 2290.7,1119.3 2292.0,1119.3C2295.2,1119.3 2298.5,1119.3 2301.7,1119.0" fill="none" stroke="#ff2020" stroke-opacity="0.85" stroke-width="2.6" stroke-linejoin="round"/>
<path d="M1147.2,612.6 L1147.2,603.6 M1147.2,32.2 L1147.2,41.2 M1331.2,612.6 L1331.2,603.6 M1331.2,32.2 L1331.2,41.2 M1515.1,612.6 L1515.1,603.6 M1515.1,32.2 L1515.1,41.2 M1699.0,612.6 L1699.0,603.6 M1699.0,32.2 L1699.0,41.2 M1883.0,612.6 L1883.0,603.6 M1883.0,32.2 L1883.0,41.2 M1147.2,32.2 L1156.2,32.2 M1883.0,32.2 L1874.0,32.2 M1147.2,198.1 L1156.2,198.1 M1883.0,198.1 L1874.0,198.1 M1147.2,364.0 L1156.2,364.0 M1883.0,364.0 L1874.0,364.0 M1147.2,529.9 L1156.2,529.9 M1883.0,529.9 L1874.0,529.9" stroke="#262626" stroke-width="3.6" fill="none"/>
<g font-family="Liberation Sans, Arial, sans-serif" font-weight="bold" font-size="38.5" fill="#2b2b2b">
<text x="1132.5" y="46.0" text-anchor="end">0</text>
<text x="1127" y="211.9" text-anchor="end">-0.01</text>
<text x="1127" y="377.8" text-anchor="end">-0.02</text>
<text x="1127" y="543.7" text-anchor="end">-0.03</text>
<text x="1145.2" y="662" text-anchor="middle">0</text>
<text x="1329.2" y="662" text-anchor="middle">200</text>
<text x="1513.1" y="662" text-anchor="middle">400</text>
<text x="1697.0" y="662" text-anchor="middle">600</text>
<text x="1881.0" y="662" text-anchor="middle">800</text>
</g>
<text x="1344" y="719.5" font-family="Liberation Sans, Arial, sans-serif" font-weight="bold" font-size="42.5" fill="#2b2b2b">Temperature (<tspan dy="-16" font-size="26">o</tspan><tspan dy="16">C)</tspan></text>
<text transform="translate(1025.5,322) rotate(-90)" font-family="Liberation Sans, Arial, sans-serif" font-weight="bold" font-size="42.5" fill="#2b2b2b" text-anchor="middle">DTG (%min)</text>
<rect x="1147.2" y="32.2" width="735.8" height="580.4" fill="none" stroke="#262626" stroke-width="3.8"/>
<path d="M1177.4,32.7C1198.3,33.7 1219.1,34.7 1240.0,35.5C1260.0,36.3 1280.0,37.6 1300.0,37.6C1326.7,37.6 1353.3,37.5 1380.0,37.5C1388.7,37.5 1397.5,37.8 1406.2,38.3C1414.9,38.8 1423.6,43.5 1432.3,47.5C1436.7,49.5 1441.0,51.7 1445.4,55.3C1449.8,58.9 1454.1,66.0 1458.5,72.3C1460.7,75.5 1462.9,77.6 1465.1,82.8C1466.4,85.9 1467.7,91.5 1469.0,98.5C1469.9,103.1 1470.7,112.7 1471.6,118.1C1473.3,128.8 1475.1,135.7 1476.8,144.3C1478.1,150.9 1479.5,155.1 1480.8,163.9C1482.1,172.5 1483.4,190.1 1484.7,203.2C1486.0,216.3 1487.3,230.1 1488.6,242.5C1489.2,247.9 1489.7,251.7 1490.3,258.0C1493.5,293.3 1496.7,373.0 1499.9,418.6C1502.1,450.4 1504.4,475.2 1506.6,502.9C1508.7,528.5 1510.7,578.8 1512.8,578.8C1514.9,578.8 1517.1,532.5 1519.2,502.9C1520.9,479.3 1522.6,450.5 1524.3,418.6C1526.8,371.1 1529.4,314.6 1531.9,250.0C1532.3,239.8 1532.7,222.8 1533.1,216.3C1534.4,195.3 1535.7,189.9 1537.0,177.0C1538.3,163.8 1539.7,148.4 1541.0,137.8C1542.3,127.4 1543.6,119.1 1544.9,111.6C1546.6,101.6 1548.4,92.4 1550.1,85.4C1552.7,74.7 1555.4,63.8 1558.0,59.3C1561.9,52.6 1565.8,48.3 1569.7,46.2C1576.3,42.7 1582.8,40.9 1589.4,39.6C1599.6,37.6 1609.8,35.7 1620.0,35.6C1640.0,35.4 1660.0,35.3 1680.0,35.3C1715.0,35.3 1750.0,35.3 1785.0,35.3" fill="none" stroke="#0a0aff" stroke-width="4" stroke-linejoin="round"/>
<path d="M1177.4,34.9C1182.5,34.9 1187.6,35.7 1192.7,36.5C1198.2,37.4 1203.6,40.0 1209.1,42.5C1212.7,44.2 1216.4,46.7 1220.0,49.1C1223.6,51.5 1227.3,53.9 1230.9,56.7C1234.5,59.5 1238.2,63.1 1241.8,66.2C1245.4,69.3 1249.1,72.4 1252.7,75.2C1256.3,78.0 1260.0,80.8 1263.6,83.2C1266.9,85.3 1270.1,87.0 1273.4,88.9C1275.8,90.3 1278.2,93.3 1280.6,93.3C1283.9,93.3 1287.2,92.6 1290.5,91.8C1293.1,91.2 1295.6,89.4 1298.2,87.2C1300.7,85.0 1303.3,79.4 1305.8,75.7C1308.3,72.0 1310.9,69.0 1313.4,65.0C1315.4,61.8 1317.5,58.6 1319.5,54.4C1321.0,51.2 1322.6,46.5 1324.1,42.9C1325.1,40.5 1326.2,36.8 1327.2,36.0C1329.0,34.6 1330.7,33.7 1332.5,33.7C1338.9,33.7 1345.2,34.1 1351.6,34.1C1361.1,34.1 1370.5,33.7 1380.0,33.7C1388.7,33.7 1397.5,35.2 1406.2,36.4C1414.9,37.6 1423.6,39.6 1432.3,42.2C1436.7,43.5 1441.0,45.2 1445.4,47.5C1449.8,49.8 1454.1,53.3 1458.5,58.0C1461.1,60.8 1463.8,65.8 1466.4,69.7C1469.0,73.6 1471.6,74.7 1474.2,81.5C1475.1,83.8 1475.9,91.1 1476.8,95.9C1478.6,105.6 1480.3,115.5 1482.1,124.7C1484.3,136.0 1486.4,144.8 1488.6,157.4C1489.9,165.0 1491.2,173.2 1492.5,183.6C1493.8,194.2 1495.2,206.1 1496.5,222.8C1497.2,231.1 1497.8,246.5 1498.5,255.0C1500.6,282.1 1502.8,300.7 1504.9,317.4C1507.3,336.4 1509.8,364.7 1512.2,364.7C1514.3,364.7 1516.3,337.9 1518.4,317.4C1519.9,302.2 1521.5,276.4 1523.0,255.0C1524.2,238.2 1525.4,219.9 1526.6,203.2C1527.9,185.1 1529.2,169.4 1530.5,150.9C1531.4,138.5 1532.2,117.2 1533.1,111.6C1534.8,100.4 1536.6,98.1 1538.3,92.0C1540.9,82.7 1543.6,72.0 1546.2,65.8C1548.8,59.6 1551.4,54.5 1554.0,51.4C1557.1,47.8 1560.1,45.2 1563.2,43.6C1569.7,40.3 1576.3,38.0 1582.8,37.0C1595.2,35.1 1607.6,33.7 1620.0,33.6C1675.0,33.0 1730.0,32.8 1785.0,32.8" fill="none" stroke="#ff0a0a" stroke-width="4" stroke-linejoin="round"/>
<line x1="175.5" y1="2378.0" x2="2321.4" y2="2378.0" stroke="#1e1e1e" stroke-width="9"/>
<path d="M644.5,2378.0 L644.5,2349.0 M1165.4,2378.0 L1165.4,2349.0 M1686.3,2378.0 L1686.3,2349.0 M2207.2,2378.0 L2207.2,2349.0" stroke="#1e1e1e" stroke-width="7" fill="none"/>
<g font-family="Liberation Sans, Arial, sans-serif" font-weight="bold" font-size="61" fill="#2b2b2b" text-anchor="middle">
<text x="643.0" y="2463">150</text>
<text x="1163.9" y="2463">100</text>
<text x="1684.8" y="2463">50</text>
<text x="2205.7" y="2463">0</text>
</g>
<g font-family="Liberation Sans, Arial, sans-serif" font-weight="bold" font-size="65" fill="#2b2b2b"><text x="1067" y="2550.4" textLength="447" lengthAdjust="spacingAndGlyphs">Chemical shift</text><text x="1521.5" y="2550.4" textLength="182" lengthAdjust="spacingAndGlyphs">(ppm)</text></g>
<text transform="translate(334,1650.6) scale(0.89,1)" font-family="Liberation Sans, Arial, sans-serif" font-size="81" fill="#000">B</text>
<polyline points="175.3,2306.5 179.3,2304.4 183.3,2304.4 187.3,2299.2 191.3,2309.0 195.3,2307.1 199.3,2303.3 203.3,2305.5 207.3,2303.9 211.3,2301.5 215.3,2304.8 219.3,2301.3 223.3,2300.9 227.3,2299.4 231.3,2302.0 235.3,2300.2 239.3,2301.4 243.3,2298.2 247.3,2299.6 251.3,2296.7 255.3,2300.5 259.3,2298.5 263.3,2298.0 267.3,2297.3 271.3,2292.9 275.3,2296.3 279.3,2298.4 283.3,2288.6 287.3,2287.5 291.3,2287.1 295.3,2292.0 299.3,2289.4 303.3,2290.9 307.3,2289.3 311.3,2287.2 315.3,2286.6 319.3,2284.7 323.3,2286.1 327.3,2280.2 331.3,2280.8 335.3,2281.2 339.3,2283.8 343.3,2278.0 347.3,2278.8 351.3,2281.6 355.3,2286.8 359.3,2285.4 363.3,2290.7 367.3,2284.5 371.3,2293.1 375.3,2294.2 379.3,2289.7 383.3,2294.8 387.3,2298.7 391.3,2297.3 395.3,2300.9 399.3,2305.5 403.3,2300.0 407.3,2298.0 411.3,2296.1 415.3,2298.7 419.3,2296.0 423.3,2295.3 427.3,2294.7 431.3,2295.8 435.3,2292.2 439.3,2292.2 443.3,2291.1 447.3,2300.9 451.3,2299.3 455.3,2303.9 459.3,2301.3 463.3,2300.7 467.3,2304.7 471.3,2304.5 475.3,2302.7 479.3,2303.9 483.3,2310.4 487.3,2307.1 491.3,2307.3 495.3,2305.8 499.3,2304.9 503.3,2308.8 507.3,2306.5 511.3,2305.0 515.3,2306.6 519.3,2304.8 523.3,2307.1 527.3,2309.0 531.3,2303.9 535.3,2308.9 539.3,2303.5 543.3,2305.0 547.3,2302.3 551.3,2303.3 555.3,2303.6 559.3,2302.0 563.3,2301.4 567.3,2301.7 571.3,2301.5 575.3,2299.9 579.3,2303.2 583.3,2304.9 587.3,2306.3 591.3,2305.8 595.3,2310.3 599.3,2305.4 603.3,2303.7 607.3,2309.4 611.3,2302.6 615.3,2307.6 619.3,2303.1 623.3,2306.4 627.3,2301.0 631.3,2308.1 635.3,2305.5 639.3,2303.4 643.3,2309.5 647.3,2307.1 651.3,2305.1 655.3,2303.0 659.3,2304.5 663.3,2304.0 667.3,2305.9 671.3,2305.9 675.3,2302.1 679.3,2302.2 683.3,2302.0 687.3,2299.9 691.3,2301.6 695.3,2302.9 699.3,2304.8 703.3,2306.4 707.3,2301.4 711.3,2304.7 715.3,2302.4 719.3,2308.5 723.3,2303.5 727.3,2304.9 731.3,2301.5 735.3,2301.9 739.3,2304.4 743.3,2303.1 747.3,2304.9 751.3,2300.4 755.3,2305.8 759.3,2302.1 763.3,2308.5 767.3,2303.7 771.3,2307.1 775.3,2301.2 779.3,2305.7 783.3,2302.6 787.3,2303.6 791.3,2304.9 795.3,2304.2 799.3,2305.6 803.3,2306.8 807.3,2306.7 811.3,2304.9 815.3,2301.9 819.3,2303.3 823.3,2304.8 827.3,2300.2 831.3,2307.2 835.3,2304.8 839.3,2304.9 843.3,2307.8 847.3,2307.2 851.3,2306.1 855.3,2303.3 859.3,2306.5 863.3,2306.6 867.3,2303.7 871.3,2308.4 875.3,2307.1 879.3,2301.2 883.3,2306.3 887.3,2303.1 891.3,2309.1 895.3,2308.5 899.3,2304.2 903.3,2304.9 907.3,2307.5 911.3,2306.9 915.3,2311.4 919.3,2309.7 923.3,2307.4 927.3,2309.7 931.3,2303.7 935.3,2309.5 939.3,2311.1 943.3,2308.8 947.3,2307.7 951.3,2311.0 955.3,2314.6 959.3,2310.6 963.3,2307.6 967.3,2314.0 971.3,2306.2 975.3,2312.1 979.3,2309.8 983.3,2313.6 987.3,2309.5 991.3,2315.0 995.3,2312.7 999.3,2307.7 1003.3,2306.9 1007.3,2310.8 1011.3,2314.5 1015.3,2311.5 1019.3,2311.2 1023.3,2310.3 1027.3,2312.5 1031.3,2311.5 1035.3,2311.1 1039.3,2307.9 1043.3,2313.0 1047.3,2313.3 1051.3,2306.7 1055.3,2315.2 1059.3,2311.3 1063.3,2308.4 1067.3,2305.0 1071.3,2311.2 1075.3,2311.1 1079.3,2308.4 1083.3,2305.5 1087.3,2312.6 1091.3,2308.5 1095.3,2308.9 1099.3,2316.9 1103.3,2315.2 1107.3,2312.5 1111.3,2309.2 1115.3,2311.9 1119.3,2304.9 1123.3,2310.7 1127.3,2308.7 1131.3,2307.4 1135.3,2306.8 1139.3,2311.9 1143.3,2310.9 1147.3,2311.1 1151.3,2312.8 1155.3,2308.9 1159.3,2308.0 1163.3,2306.7 1167.3,2310.3 1171.3,2313.1 1175.3,2311.0 1179.3,2313.0 1183.3,2308.8 1187.3,2310.6 1191.3,2310.0 1195.3,2309.0 1199.3,2316.6 1203.3,2314.3 1207.3,2310.6 1211.3,2310.7 1215.3,2312.5 1219.3,2309.3 1223.3,2313.9 1227.3,2309.9 1231.3,2312.3 1235.3,2310.8 1239.3,2312.3 1243.3,2310.3 1247.3,2309.9 1251.3,2311.4 1255.3,2312.2 1259.3,2313.2 1263.3,2314.2 1267.3,2317.8 1271.3,2316.2 1275.3,2313.7 1279.3,2316.1 1283.3,2312.8 1287.3,2318.1 1291.3,2316.0 1295.3,2311.5 1299.3,2316.7 1303.3,2316.9 1307.3,2308.5 1311.3,2313.0 1315.3,2313.5 1319.3,2309.9 1323.3,2311.9 1327.3,2312.0 1331.3,2315.4 1335.3,2314.8 1339.3,2320.2 1343.3,2312.8 1347.3,2316.4 1351.3,2313.7 1355.3,2314.1 1359.3,2310.5 1363.3,2308.6 1367.3,2311.2 1371.3,2314.7 1375.3,2316.6 1379.3,2314.1 1383.3,2313.7 1387.3,2310.4 1391.3,2316.0 1395.3,2315.4 1399.3,2310.9 1403.3,2312.0 1407.3,2309.6 1411.3,2315.5 1415.3,2312.9 1419.3,2311.6 1423.3,2312.8 1427.3,2312.8 1431.3,2310.7 1435.3,2308.6 1439.3,2308.5 1443.3,2307.3 1447.3,2312.5 1451.3,2316.7 1455.3,2307.2 1459.3,2311.6 1463.3,2312.2 1467.3,2308.8 1471.3,2311.6 1475.3,2308.4 1479.3,2313.4 1483.3,2308.6 1487.3,2309.8 1491.3,2310.7 1495.3,2307.5 1499.3,2303.7 1503.3,2306.3 1507.3,2308.9 1511.3,2306.4 1515.3,2306.6 1519.3,2303.0 1523.3,2305.4 1527.3,2306.3 1531.3,2304.2 1535.3,2309.1 1539.3,2304.7 1543.3,2303.4 1547.3,2302.6 1551.3,2309.9 1555.3,2307.7 1559.3,2310.9 1563.3,2308.4 1567.3,2309.6 1571.3,2307.1 1575.3,2301.5 1579.3,2301.5 1583.3,2301.8 1587.3,2294.6 1591.3,2299.5 1595.3,2297.3 1599.3,2295.2 1603.3,2290.7 1607.3,2289.8 1611.3,2284.0 1615.3,2284.4 1619.3,2280.5 1623.3,2279.7 1627.3,2275.6 1631.3,2271.1 1635.3,2266.8 1639.3,2255.4 1643.3,2257.5 1647.3,2247.3 1651.3,2244.7 1655.3,2248.2 1659.3,2253.3 1663.3,2260.4 1667.3,2258.9 1671.3,2264.8 1675.3,2267.2 1679.3,2272.9 1683.3,2275.7 1687.3,2283.0 1691.3,2277.8 1695.3,2278.1 1699.3,2276.9 1703.3,2282.7 1707.3,2281.6 1711.3,2285.0 1715.3,2291.3 1719.3,2297.3 1723.3,2296.9 1727.3,2299.7 1731.3,2301.2 1735.3,2306.7 1739.3,2305.4 1743.3,2308.3 1747.3,2304.9 1751.3,2301.8 1755.3,2302.7 1759.3,2301.7 1763.3,2301.1 1767.3,2307.1 1771.3,2306.0 1775.3,2301.1 1779.3,2308.4 1783.3,2304.6 1787.3,2300.2 1791.3,2301.8 1795.3,2299.1 1799.3,2295.8 1803.3,2291.4 1807.3,2294.2 1811.3,2292.4 1815.3,2283.1 1819.3,2288.3 1823.3,2286.0 1827.3,2281.0 1831.3,2287.7 1835.3,2290.1 1839.3,2276.9 1843.3,2270.0 1847.3,2270.1 1851.3,2259.3 1855.3,2259.4 1859.3,2254.8 1863.3,2239.3 1867.3,2228.6 1871.3,2218.3 1875.3,2215.5 1879.3,2218.7 1883.3,2223.9 1887.3,2228.9 1891.3,2244.5 1895.3,2241.4 1899.3,2248.6 1903.3,2251.7 1907.3,2255.3 1911.3,2267.6 1915.3,2271.4 1919.3,2271.7 1923.3,2269.8 1927.3,2266.5 1931.3,2273.5 1935.3,2271.6 1939.3,2283.8 1943.3,2280.3 1947.3,2277.8 1951.3,2273.4 1955.3,2272.8 1959.3,2275.9 1963.3,2278.0 1967.3,2280.7 1971.3,2281.6 1975.3,2281.8 1979.3,2282.0 1983.3,2269.1 1987.3,2264.0 1991.3,2255.0 1995.3,2245.7 1999.3,2238.3 2003.3,2238.8 2007.3,2250.8 2011.3,2257.6 2015.3,2268.8 2019.3,2279.0 2023.3,2282.2 2027.3,2285.0 2031.3,2290.4 2035.3,2291.0 2039.3,2297.6 2043.3,2300.4 2047.3,2298.3 2051.3,2295.8 2055.3,2301.9 2059.3,2298.0 2063.3,2305.7 2067.3,2298.8 2071.3,2304.4 2075.3,2303.3 2079.3,2307.0 2083.3,2310.4 2087.3,2308.9 2091.3,2312.7 2095.3,2312.2 2099.3,2310.9 2103.3,2311.0 2107.3,2310.2 2111.3,2305.7 2115.3,2300.3 2119.3,2294.9 2123.3,2280.6 2127.3,2267.8 2131.3,2253.4 2135.3,2247.7 2139.3,2253.2 2143.3,2263.0 2147.3,2284.7 2151.3,2287.7 2155.3,2294.2 2159.3,2299.0 2163.3,2300.3 2167.3,2293.0 2171.3,2291.2 2175.3,2286.8 2177.7,2281.9 2181.1,2248.4 2183.3,2192.6 2185.5,2125.6 2187.1,2058.6 2188.9,1969.3 2190.6,1880.0 2191.1,1790.0 2191.9,1706.0 2192.6,1620.0 2193.7,1521.8 2194.7,1620.0 2195.4,1706.0 2196.9,1790.0 2198.5,1880.0 2201.2,1991.6 2203.4,2080.9 2206.7,2147.9 2211.2,2203.7 2217.9,2248.4 2226.8,2264.0 2231.3,2266.8 2235.3,2269.8 2239.3,2271.7 2243.3,2281.7 2247.3,2281.9 2251.3,2282.6 2255.3,2284.0 2259.3,2284.8 2263.3,2291.6 2267.3,2292.4 2271.3,2289.2 2275.3,2296.1 2279.3,2296.0 2283.3,2292.6 2287.3,2294.4 2291.3,2295.5 2295.3,2297.7 2299.3,2297.8 2303.3,2295.0 2307.3,2303.2 2311.3,2300.5 2315.3,2302.7 2319.3,2302.7 2320.6,2299.7" fill="none" stroke="#0000ff" stroke-opacity="0.72" stroke-width="2.3" stroke-linejoin="round"/>
<polyline points="175.3,2296.7 179.3,2297.4 183.3,2296.1 187.3,2292.5 191.3,2296.7 195.3,2295.5 199.3,2293.2 203.3,2295.2 207.3,2294.4 211.3,2294.0 215.3,2293.2 219.3,2293.9 223.3,2291.0 227.3,2291.9 231.3,2290.9 235.3,2292.7 239.3,2291.2 243.3,2290.2 247.3,2288.9 251.3,2289.6 255.3,2289.8 259.3,2288.6 263.3,2290.7 267.3,2289.0 271.3,2280.5 275.3,2281.1 279.3,2283.4 283.3,2282.0 287.3,2282.7 291.3,2282.2 295.3,2285.5 299.3,2278.5 303.3,2279.4 307.3,2283.7 311.3,2280.4 315.3,2279.9 319.3,2277.0 323.3,2275.3 327.3,2279.4 331.3,2279.9 335.3,2277.8 339.3,2279.4 343.3,2281.6 347.3,2281.3 351.3,2284.3 355.3,2286.1 359.3,2287.4 363.3,2287.6 367.3,2291.2 371.3,2292.4 375.3,2291.9 379.3,2290.2 383.3,2293.9 387.3,2292.1 391.3,2295.4 395.3,2292.2 399.3,2296.7 403.3,2295.0 407.3,2292.7 411.3,2294.6 415.3,2295.5 419.3,2296.0 423.3,2293.6 427.3,2293.4 431.3,2296.1 435.3,2294.9 439.3,2296.4 443.3,2297.5 447.3,2292.9 451.3,2296.9 455.3,2299.0 459.3,2296.1 463.3,2295.3 467.3,2298.6 471.3,2297.8 475.3,2299.2 479.3,2296.9 483.3,2294.9 487.3,2297.8 491.3,2297.2 495.3,2299.7 499.3,2298.6 503.3,2295.1 507.3,2296.0 511.3,2300.3 515.3,2299.9 519.3,2297.4 523.3,2298.7 527.3,2299.7 531.3,2299.8 535.3,2300.7 539.3,2299.6 543.3,2299.0 547.3,2298.7 551.3,2301.4 555.3,2294.9 559.3,2299.2 563.3,2299.6 567.3,2296.7 571.3,2300.3 575.3,2298.3 579.3,2301.4 583.3,2299.4 587.3,2301.0 591.3,2302.2 595.3,2300.5 599.3,2298.1 603.3,2296.8 607.3,2303.4 611.3,2299.7 615.3,2298.6 619.3,2300.2 623.3,2299.6 627.3,2301.7 631.3,2300.1 635.3,2300.1 639.3,2298.7 643.3,2301.1 647.3,2298.1 651.3,2301.5 655.3,2303.3 659.3,2297.2 663.3,2295.4 667.3,2301.6 671.3,2305.5 675.3,2298.4 679.3,2297.9 683.3,2301.6 687.3,2298.8 691.3,2299.6 695.3,2300.0 699.3,2301.8 703.3,2300.1 707.3,2301.6 711.3,2300.7 715.3,2299.5 719.3,2300.7 723.3,2299.5 727.3,2301.5 731.3,2299.4 735.3,2299.6 739.3,2304.8 743.3,2301.9 747.3,2302.0 751.3,2303.2 755.3,2301.5 759.3,2301.9 763.3,2303.4 767.3,2303.2 771.3,2300.4 775.3,2304.5 779.3,2301.8 783.3,2300.9 787.3,2301.4 791.3,2302.5 795.3,2306.6 799.3,2301.1 803.3,2303.8 807.3,2299.2 811.3,2303.4 815.3,2305.2 819.3,2302.9 823.3,2302.1 827.3,2303.8 831.3,2304.7 835.3,2304.6 839.3,2307.2 843.3,2303.7 847.3,2302.0 851.3,2302.9 855.3,2303.0 859.3,2303.4 863.3,2303.1 867.3,2303.4 871.3,2299.7 875.3,2304.7 879.3,2301.9 883.3,2300.7 887.3,2304.3 891.3,2305.7 895.3,2304.1 899.3,2303.5 903.3,2301.4 907.3,2309.0 911.3,2305.1 915.3,2301.1 919.3,2301.8 923.3,2303.6 927.3,2300.4 931.3,2303.9 935.3,2302.7 939.3,2306.1 943.3,2305.6 947.3,2298.3 951.3,2303.8 955.3,2300.6 959.3,2306.1 963.3,2304.2 967.3,2305.0 971.3,2301.9 975.3,2307.7 979.3,2308.1 983.3,2302.0 987.3,2304.9 991.3,2302.9 995.3,2304.2 999.3,2301.8 1003.3,2308.1 1007.3,2302.5 1011.3,2303.9 1015.3,2305.5 1019.3,2303.2 1023.3,2304.1 1027.3,2303.5 1031.3,2304.4 1035.3,2302.4 1039.3,2303.9 1043.3,2304.4 1047.3,2304.2 1051.3,2305.0 1055.3,2304.4 1059.3,2306.5 1063.3,2304.3 1067.3,2304.6 1071.3,2303.5 1075.3,2303.8 1079.3,2302.2 1083.3,2305.7 1087.3,2302.4 1091.3,2303.1 1095.3,2305.3 1099.3,2305.3 1103.3,2303.7 1107.3,2300.4 1111.3,2305.2 1115.3,2304.8 1119.3,2301.4 1123.3,2305.7 1127.3,2302.8 1131.3,2301.9 1135.3,2304.3 1139.3,2303.7 1143.3,2304.4 1147.3,2300.7 1151.3,2307.5 1155.3,2302.6 1159.3,2300.7 1163.3,2304.9 1167.3,2302.9 1171.3,2304.3 1175.3,2302.9 1179.3,2303.4 1183.3,2304.0 1187.3,2301.9 1191.3,2304.7 1195.3,2302.4 1199.3,2301.5 1203.3,2303.4 1207.3,2304.0 1211.3,2302.7 1215.3,2301.3 1219.3,2304.2 1223.3,2299.4 1227.3,2300.9 1231.3,2302.9 1235.3,2300.1 1239.3,2302.8 1243.3,2302.6 1247.3,2304.5 1251.3,2300.8 1255.3,2301.3 1259.3,2303.2 1263.3,2297.6 1267.3,2308.6 1271.3,2301.0 1275.3,2300.9 1279.3,2304.0 1283.3,2302.2 1287.3,2298.6 1291.3,2303.4 1295.3,2303.8 1299.3,2301.2 1303.3,2301.5 1307.3,2303.0 1311.3,2300.3 1315.3,2303.1 1319.3,2302.7 1323.3,2301.0 1327.3,2299.7 1331.3,2302.1 1335.3,2300.9 1339.3,2304.7 1343.3,2303.1 1347.3,2304.5 1351.3,2303.2 1355.3,2303.6 1359.3,2301.6 1363.3,2304.6 1367.3,2306.9 1371.3,2302.8 1375.3,2302.3 1379.3,2303.3 1383.3,2302.7 1387.3,2302.3 1391.3,2304.1 1395.3,2303.3 1399.3,2306.9 1403.3,2304.1 1407.3,2304.8 1411.3,2306.1 1415.3,2303.7 1419.3,2307.3 1423.3,2303.2 1427.3,2303.0 1431.3,2303.9 1435.3,2304.5 1439.3,2302.0 1443.3,2304.9 1447.3,2301.6 1451.3,2307.4 1455.3,2304.2 1459.3,2302.7 1463.3,2301.8 1467.3,2302.6 1471.3,2302.6 1475.3,2300.6 1479.3,2300.5 1483.3,2301.6 1487.3,2300.6 1491.3,2303.2 1495.3,2303.3 1499.3,2300.7 1503.3,2301.3 1507.3,2297.4 1511.3,2301.0 1515.3,2299.3 1519.3,2300.0 1523.3,2301.9 1527.3,2293.8 1531.3,2298.6 1535.3,2295.0 1539.3,2297.4 1543.3,2292.5 1547.3,2293.2 1551.3,2293.6 1555.3,2293.4 1559.3,2291.3 1563.3,2288.1 1567.3,2286.9 1571.3,2288.2 1575.3,2284.8 1579.3,2279.8 1583.3,2283.3 1587.3,2280.8 1591.3,2280.1 1595.3,2276.1 1599.3,2276.8 1603.3,2271.4 1607.3,2273.1 1611.3,2269.3 1615.3,2270.0 1619.3,2269.1 1623.3,2264.0 1627.3,2263.6 1631.3,2259.7 1635.3,2258.0 1639.3,2253.7 1643.3,2246.6 1647.3,2246.9 1651.3,2246.4 1655.3,2248.3 1659.3,2241.5 1663.3,2244.6 1667.3,2251.9 1671.3,2251.9 1675.3,2257.6 1679.3,2266.4 1683.3,2273.0 1687.3,2275.2 1691.3,2281.9 1695.3,2283.7 1699.3,2289.1 1703.3,2288.8 1707.3,2293.4 1711.3,2292.3 1715.3,2296.4 1719.3,2297.5 1723.3,2300.4 1727.3,2299.6 1731.3,2297.4 1735.3,2300.6 1739.3,2301.2 1743.3,2299.9 1747.3,2300.0 1751.3,2300.5 1755.3,2297.9 1759.3,2302.1 1763.3,2301.9 1767.3,2298.9 1771.3,2301.3 1775.3,2296.2 1779.3,2297.1 1783.3,2296.4 1787.3,2299.7 1791.3,2291.0 1795.3,2293.7 1799.3,2292.9 1803.3,2290.1 1807.3,2290.0 1811.3,2283.6 1815.3,2279.0 1819.3,2283.1 1823.3,2277.2 1827.3,2276.9 1831.3,2273.2 1835.3,2273.7 1839.3,2268.7 1843.3,2260.9 1847.3,2257.5 1851.3,2246.3 1855.3,2236.2 1859.3,2218.4 1863.3,2193.9 1867.3,2171.5 1871.3,2149.8 1875.3,2135.8 1879.3,2133.7 1883.3,2137.6 1887.3,2153.3 1891.3,2168.2 1895.3,2187.7 1899.3,2197.5 1903.3,2213.1 1907.3,2219.2 1911.3,2224.1 1915.3,2228.8 1919.3,2235.3 1923.3,2236.9 1927.3,2237.3 1931.3,2239.5 1935.3,2241.6 1939.3,2242.2 1943.3,2246.7 1947.3,2248.1 1951.3,2247.4 1955.3,2245.5 1959.3,2243.5 1963.3,2248.0 1967.3,2253.2 1971.3,2252.4 1975.3,2245.5 1979.3,2242.8 1983.3,2245.6 1987.3,2246.7 1991.3,2244.1 1995.3,2242.5 1999.3,2240.5 2003.3,2247.6 2007.3,2249.7 2011.3,2261.5 2015.3,2272.2 2019.3,2275.4 2023.3,2282.5 2027.3,2284.7 2031.3,2284.2 2035.3,2286.7 2039.3,2287.4 2043.3,2288.0 2047.3,2289.5 2051.3,2291.7 2055.3,2293.8 2059.3,2292.7 2063.3,2295.4 2067.3,2292.8 2071.3,2296.8 2075.3,2297.9 2079.3,2297.4 2083.3,2298.0 2087.3,2299.3 2091.3,2297.6 2095.3,2299.3 2099.3,2301.6 2103.3,2303.4 2107.3,2302.1 2111.3,2303.7 2115.3,2295.8 2119.3,2295.3 2123.3,2284.7 2127.3,2269.3 2131.3,2253.0 2135.3,2243.7 2139.3,2254.4 2143.3,2268.2 2147.3,2283.7 2151.3,2289.9 2155.3,2295.3 2159.3,2300.7 2163.3,2294.9 2167.3,2299.2 2171.3,2294.0 2175.3,2283.7 2177.7,2281.9 2181.1,2248.4 2183.3,2192.6 2185.5,2125.6 2187.1,2058.6 2188.9,1969.3 2190.7,1880.0 2191.3,1790.0 2192.3,1706.0 2193.9,1645.0 2195.3,1706.0 2197.3,1790.0 2198.9,1880.0 2201.2,1991.6 2203.4,2080.9 2206.7,2147.9 2211.2,2203.7 2217.9,2248.4 2226.8,2272.9 2231.3,2275.7 2235.3,2281.1 2239.3,2287.0 2243.3,2288.4 2247.3,2291.3 2251.3,2289.7 2255.3,2295.7 2259.3,2297.0 2263.3,2294.4 2267.3,2301.0 2271.3,2302.9 2275.3,2297.2 2279.3,2299.3 2283.3,2302.3 2287.3,2296.9 2291.3,2296.1 2295.3,2297.8 2299.3,2299.5 2303.3,2299.7 2307.3,2302.4 2311.3,2301.9 2315.3,2299.2 2319.3,2303.1 2320.6,2302.0" fill="none" stroke="#ff0000" stroke-opacity="0.72" stroke-width="2.3" stroke-linejoin="round"/>
</g>
</svg>
</body></html>
